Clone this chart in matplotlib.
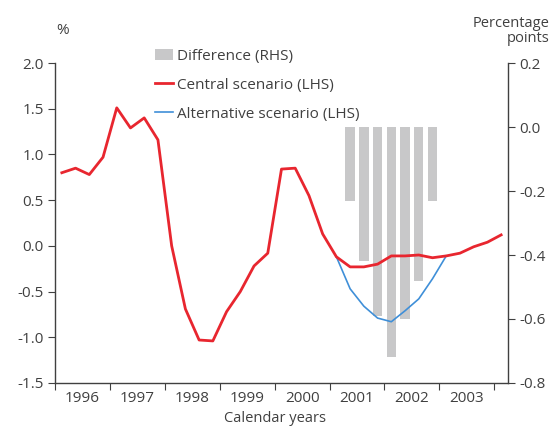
import matplotlib
matplotlib.use("Agg")
import matplotlib.pyplot as plt
import numpy as np
from matplotlib.patches import Patch
from matplotlib.lines import Line2D

plt.rcParams['font.family'] = ['Open Sans', 'DejaVu Sans']

# Quarterly data, 1996Q1 .. 2004Q1
central = [0.80, 0.85, 0.78, 0.97, 1.51, 1.29, 1.40, 1.16,
           0.00, -0.69, -1.03, -1.04, -0.72, -0.50, -0.22, -0.08,
           0.84, 0.85, 0.55, 0.13, -0.12, -0.23, -0.23, -0.20,
           -0.11, -0.11, -0.10, -0.13, -0.11, -0.08, -0.01, 0.04, 0.12]
# Alternative scenario from 2001Q1 to 2003Q1
alt_start = 20
alternative = [-0.12, -0.47, -0.66, -0.79, -0.83, -0.71, -0.58, -0.36, -0.11]
# Difference (RHS), 2001Q2 .. 2002Q4
diff_start = 21
difference = [-0.23, -0.42, -0.59, -0.72, -0.60, -0.48, -0.23]

year_labels = ['1996', '1997', '1998', '1999', '2000', '2001', '2002', '2003']

TXT = '#404040'
RED = '#E8262F'
BLUE = '#3F8FD8'
GREY = '#C8C8C9'

def qpos(i):
    return 1996 + (i + 0.5) / 4.0

x_c = [qpos(i) for i in range(len(central))]
x_a = [qpos(alt_start + i) for i in range(len(alternative))]
x_d = [qpos(diff_start + i) for i in range(len(difference))]

fig = plt.figure(figsize=(5.52, 4.26), dpi=100)
ax = fig.add_axes([0.0996, 0.101, 0.8207, 0.751])
ax2 = ax.twinx()
ax.set_zorder(ax2.get_zorder() + 1)
ax.patch.set_visible(False)

ax2.bar(x_d, difference, width=0.17, color=GREY, bottom=0)
ax.plot(x_a, alternative, color=BLUE, lw=1.2, zorder=3)
ax.plot(x_c, central, color=RED, lw=2.0, zorder=4)

ax.set_xlim(1996, 2004.25)
ax.set_ylim(-1.5, 2.0)
ax2.set_ylim(-0.8, 0.2)
ax.set_yticks(np.arange(-1.5, 2.01, 0.5))
ax.set_yticklabels([f'{v:.1f}' for v in np.arange(-1.5, 2.01, 0.5)])
ax2.set_yticks(np.arange(-0.8, 0.21, 0.2))
ax2.set_yticklabels([f'{v:.1f}' if abs(v) > 1e-9 else '0.0' for v in np.arange(-0.8, 0.21, 0.2)])

ax.set_xticks(np.arange(1996, 2005, 1))
ax.set_xticklabels([])
ax.set_xticks([1996.5 + k for k in range(len(year_labels))], minor=True)
ax.set_xticklabels(year_labels, minor=True)
ax.tick_params(axis='x', which='minor', length=0, pad=6, labelsize=11, labelcolor=TXT)
ax.tick_params(axis='x', which='major', length=5, color=TXT, direction='out')
ax.tick_params(axis='y', length=5, color=TXT, labelsize=11, labelcolor=TXT, pad=3)
ax2.tick_params(axis='y', length=5, color=TXT, labelsize=11, labelcolor=TXT, pad=3)

for a in (ax, ax2):
    a.spines['top'].set_visible(False)
    for s in ('left', 'right', 'bottom'):
        a.spines[s].set_color(TXT)
        a.spines[s].set_linewidth(1.0)
ax.spines['right'].set_visible(False)
ax2.spines['left'].set_visible(False)
ax2.spines['bottom'].set_visible(False)

fig.text(56 / 552, 1 - 31 / 426, '%', ha='left', va='center', fontsize=11, color=TXT)
fig.text(550 / 552, 1 - 31 / 426, 'Percentage\npoints', ha='right', va='center',
         fontsize=10.5, color=TXT, linespacing=1.0, multialignment='right')
fig.text(275 / 552, 1 - 418 / 426, 'Calendar years', ha='center', va='center',
         fontsize=10.5, color=TXT)

handles = [Patch(facecolor=GREY, edgecolor='none'),
           Line2D([0], [0], color=RED, lw=2.0),
           Line2D([0], [0], color=BLUE, lw=1.2)]
labels = ['Difference (RHS)', 'Central scenario (LHS)', 'Alternative scenario (LHS)']
leg = ax.legend(handles, labels, loc='upper left', bbox_to_anchor=(0.2066, 1.063),
                frameon=False, fontsize=11, handlelength=1.2, handletextpad=0.27,
                labelspacing=0.9, borderaxespad=0)
for t in leg.get_texts():
    t.set_color(TXT)

fig.savefig('out.png', dpi=100)
